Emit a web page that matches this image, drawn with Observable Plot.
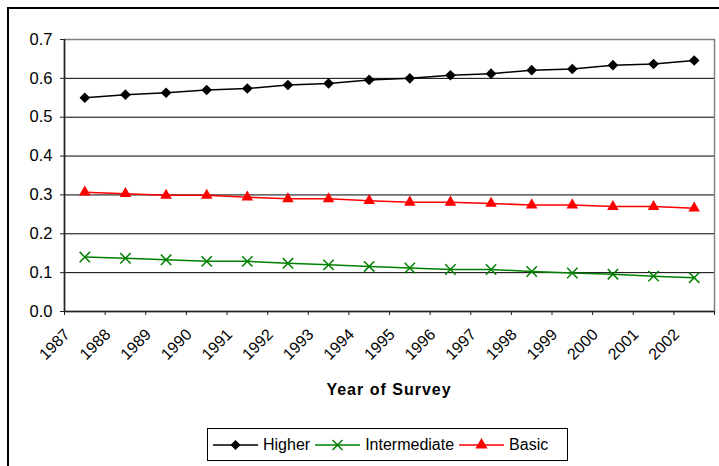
<!DOCTYPE html>
<html>
<head>
<meta charset="utf-8">
<script src="https://cdn.jsdelivr.net/npm/d3@7"></script>
<script src="https://cdn.jsdelivr.net/npm/@observablehq/plot@0.6"></script>
<style>
  body { margin: 0; width: 719px; height: 466px; overflow: hidden; background: #fff; position: relative;
         font-family: "Liberation Sans", Arial, sans-serif; }
  #border { position: absolute; left: 7px; top: 7px; width: 800px; height: 600px; border: 2px solid #000; box-sizing: border-box; }
  #chart { position: absolute; left: 0; top: 0; }
  #xtitle { position: absolute; left: 0; width: 778px; top: 381px; text-align: center; font-weight: bold; font-size: 16px; letter-spacing: 1px; }
  #legend { position: absolute; left: 207px; top: 428px; width: 361px; height: 33px; border: 1px solid #000; box-sizing: border-box;
            display: flex; align-items: center; font-size: 16px; }
  #legend .item { display: flex; align-items: center; margin-left: 5px; }
  #legend svg { margin-right: 5px; }
</style>
</head>
<body>
<div id="border"></div>
<div id="chart"></div>
<div id="xtitle">Year of Survey</div>
<div id="legend"></div>
<script>
const years = [1987, 1988, 1989, 1990, 1991, 1992, 1993, 1994, 1995, 1996, 1997, 1998, 1999, 2000, 2001, 2002]
const higher = [0.550, 0.558, 0.563, 0.570, 0.574, 0.583, 0.587, 0.596, 0.600, 0.608, 0.612, 0.621, 0.624, 0.634, 0.637, 0.646]
const intermediate = [0.140, 0.137, 0.133, 0.129, 0.129, 0.124, 0.120, 0.116, 0.112, 0.108, 0.108, 0.103, 0.099, 0.096, 0.091, 0.087]
const basic = [0.307, 0.303, 0.299, 0.299, 0.294, 0.290, 0.290, 0.285, 0.281, 0.281, 0.278, 0.274, 0.274, 0.270, 0.270, 0.266]
const seriesNames = ["Higher", "Intermediate", "Basic"]
const seriesColors = ["#000000", "#008000", "#ff0000"]
const yTicks = [0, 0.1, 0.2, 0.3, 0.4, 0.5, 0.6, 0.7]

// long table for the line marks
const rows = []
years.forEach((yr, i) => {
    rows.push({ year: yr, value: higher[i], series: "Higher" })
    rows.push({ year: yr, value: intermediate[i], series: "Intermediate" })
    rows.push({ year: yr, value: basic[i], series: "Basic" })
})
// category boundaries, for the ticks between years
const bounds = years.map(d => d - 0.5).concat([years[years.length - 1] + 0.5])

let chart = Plot.plot({
    width: 719,
    height: 420,
    marginLeft: 64,
    marginRight: 5,
    marginTop: 39,
    marginBottom: 109,
    style: { fontFamily: "'Liberation Sans', Arial, sans-serif", background: "transparent" },
    x: { type: "linear", domain: [bounds[0], bounds[bounds.length - 1]], axis: null },
    y: { domain: [0, 0.7], axis: null },
    color: { domain: seriesNames, range: seriesColors },
    marks: [
        Plot.gridY(yTicks, { stroke: "#000", strokeOpacity: 1 }),
        Plot.frame({ stroke: "#808080", strokeWidth: 1.5 }),
        Plot.ruleY([0], { stroke: "#222", strokeWidth: 1.5 }),
        Plot.ruleX([bounds[0]], { stroke: "#222", strokeWidth: 1.5 }),
        Plot.axisY(yTicks, { tickSize: 4, tickPadding: 8, fontSize: 16.5, tickFormat: d => d.toFixed(1), stroke: "#222", label: null }),
        Plot.axisX(bounds, { tickSize: 4, tickFormat: () => "", stroke: "#222", label: null }),
        Plot.text(years, { x: d => d, text: d => String(d), frameAnchor: "bottom", rotate: -45, textAnchor: "end", dx: -14, dy: 24, fontSize: 16, fill: "#000" }),
        Plot.line(rows, { x: "year", y: "value", stroke: "series", z: "series", strokeWidth: 1.5 }),
        Plot.dot(rows.filter(d => d.series == "Higher"), { x: "year", y: "value", symbol: "diamond2", r: 4.8, fill: "#000" }),
        Plot.dot(rows.filter(d => d.series == "Intermediate"), { x: "year", y: "value", symbol: "times", r: 4.8, stroke: "#008000", strokeWidth: 1.5 }),
        Plot.dot(rows.filter(d => d.series == "Basic"), { x: "year", y: "value", symbol: "triangle", r: 4.3, fill: "#ff0000" }),
    ]
})

d3.select('#chart').append(() => chart)

// legend
const symbols = { Higher: d3.symbolDiamond2, Intermediate: d3.symbolTimes, Basic: d3.symbolTriangle }
const legend = d3.select('#legend')
seriesNames.forEach((name, i) => {
    let item = legend.append('div').attr('class', 'item')
    let svg = item.append('svg').attr('width', 45).attr('height', 16)
    svg.append('line').attr('x1', 0).attr('x2', 45).attr('y1', 8).attr('y2', 8)
        .attr('stroke', seriesColors[i]).attr('stroke-width', 1.5)
    let filled = name != "Intermediate"
    svg.append('path').attr('transform', 'translate(22.5,8)')
        .attr('d', d3.symbol(symbols[name], filled ? 64 : 66)())
        .attr('fill', filled ? seriesColors[i] : 'none')
        .attr('stroke', filled ? 'none' : seriesColors[i])
        .attr('stroke-width', 1.5)
    item.append('span').text(name)
})
</script>
</body>
</html>
